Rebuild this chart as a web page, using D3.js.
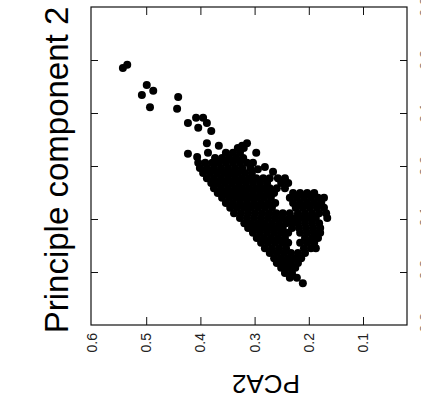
<!DOCTYPE html>
<html>
<head>
<meta charset="utf-8">
<script src="https://cdn.jsdelivr.net/npm/d3@7"></script>
<style>
  html, body { margin: 0; padding: 0; background: #fff; }
  svg { display: block; font-family: "Liberation Sans", Arial, sans-serif; }
</style>
</head>
<body>
<svg id="chart" width="421" height="412"></svg>
<script>
// Axis ticks and titles
const xTicks = [0.6, 0.5, 0.4, 0.3, 0.2, 0.1];
const yTicks = [-0.3, -0.2, -0.1, 0.0, 0.1, 0.2, 0.3];
const yTickLabels = ["-0.3", "-0.2", "-0.1", "0.0", "0.1", "0.2", "0.3"];
const xTitle = "PCA2";
const yTitle = "Principle component 2";

// Scores: [PCA2, component 2], the sparse points away from the main body
const outlying = [
  [0.543, 0.185], [0.535, 0.191], [0.499, 0.153], [0.487, 0.142], [0.508, 0.134],
  [0.493, 0.111], [0.441, 0.130], [0.443, 0.108], [0.423, 0.081], [0.408, 0.091],
  [0.395, 0.091], [0.388, 0.081], [0.404, 0.072], [0.380, 0.066], [0.388, 0.043],
  [0.366, 0.038], [0.423, 0.023], [0.406, 0.017], [0.386, 0.025], [0.314, 0.043],
  [0.323, 0.038], [0.297, 0.025], [0.308, -0.004], [0.294, -0.006], [0.281, -0.002],
  [0.266, -0.011], [0.211, -0.221]
];

// Scores in the dense body of the cloud
const cluster = [
  [0.331, 0.034], [0.320, 0.034],
  [0.353, 0.025], [0.340, 0.025], [0.327, 0.025],
  [0.373, 0.015], [0.360, 0.015], [0.347, 0.015], [0.334, 0.015], [0.321, 0.015],
  [0.404, 0.006], [0.391, 0.006], [0.378, 0.006], [0.366, 0.006], [0.353, 0.006],
  [0.340, 0.006], [0.327, 0.006], [0.314, 0.006], [0.303, 0.006],
  [0.401, -0.004], [0.388, -0.004], [0.375, -0.004], [0.362, -0.004], [0.349, -0.004],
  [0.336, -0.004], [0.323, -0.004],
  [0.395, -0.013], [0.382, -0.013], [0.369, -0.013], [0.356, -0.013], [0.343, -0.013],
  [0.331, -0.013], [0.318, -0.013], [0.305, -0.013],
  [0.388, -0.023], [0.375, -0.023], [0.362, -0.023], [0.349, -0.023], [0.336, -0.023],
  [0.323, -0.023], [0.310, -0.023], [0.297, -0.023], [0.284, -0.023], [0.272, -0.023],
  [0.257, -0.023], [0.244, -0.023],
  [0.380, -0.032], [0.368, -0.032], [0.355, -0.032], [0.342, -0.032], [0.329, -0.032],
  [0.316, -0.032], [0.303, -0.032], [0.290, -0.032], [0.277, -0.032], [0.251, -0.032],
  [0.238, -0.032],
  [0.375, -0.042], [0.362, -0.042], [0.349, -0.042], [0.336, -0.042], [0.323, -0.042],
  [0.310, -0.042], [0.297, -0.042], [0.284, -0.042], [0.272, -0.042], [0.259, -0.042],
  [0.244, -0.042],
  [0.368, -0.051], [0.355, -0.051], [0.342, -0.051], [0.329, -0.051], [0.316, -0.051],
  [0.303, -0.051], [0.290, -0.051], [0.277, -0.051], [0.264, -0.051], [0.229, -0.051],
  [0.216, -0.051], [0.203, -0.051], [0.190, -0.051],
  [0.360, -0.060], [0.347, -0.060], [0.334, -0.060], [0.321, -0.060], [0.308, -0.060],
  [0.296, -0.060], [0.283, -0.060], [0.270, -0.060], [0.235, -0.060], [0.222, -0.060],
  [0.209, -0.060], [0.196, -0.060], [0.183, -0.060], [0.172, -0.060],
  [0.353, -0.070], [0.340, -0.070], [0.327, -0.070], [0.314, -0.070], [0.301, -0.070],
  [0.288, -0.070], [0.275, -0.070], [0.262, -0.070], [0.229, -0.070], [0.216, -0.070],
  [0.203, -0.070], [0.190, -0.070], [0.177, -0.070],
  [0.345, -0.079], [0.332, -0.079], [0.319, -0.079], [0.307, -0.079], [0.294, -0.079],
  [0.281, -0.079], [0.268, -0.079], [0.224, -0.079], [0.211, -0.079], [0.198, -0.079],
  [0.185, -0.079], [0.172, -0.079],
  [0.338, -0.089], [0.325, -0.089], [0.312, -0.089], [0.299, -0.089], [0.286, -0.089],
  [0.273, -0.089], [0.260, -0.089], [0.248, -0.089], [0.235, -0.089], [0.220, -0.089],
  [0.207, -0.089], [0.194, -0.089], [0.181, -0.089], [0.168, -0.089],
  [0.327, -0.098], [0.314, -0.098], [0.301, -0.098], [0.288, -0.098], [0.275, -0.098],
  [0.262, -0.098], [0.249, -0.098], [0.236, -0.098], [0.225, -0.098], [0.212, -0.098],
  [0.199, -0.098], [0.187, -0.098], [0.166, -0.098],
  [0.319, -0.108], [0.307, -0.108], [0.294, -0.108], [0.281, -0.108], [0.268, -0.108],
  [0.255, -0.108], [0.242, -0.108], [0.231, -0.108], [0.220, -0.108], [0.207, -0.108],
  [0.194, -0.108], [0.181, -0.108],
  [0.312, -0.117], [0.299, -0.117], [0.286, -0.117], [0.273, -0.117], [0.260, -0.117],
  [0.248, -0.117], [0.231, -0.117], [0.218, -0.117], [0.205, -0.117], [0.192, -0.117],
  [0.179, -0.117],
  [0.303, -0.126], [0.290, -0.126], [0.277, -0.126], [0.264, -0.126], [0.251, -0.126],
  [0.238, -0.126], [0.216, -0.126], [0.203, -0.126], [0.190, -0.126], [0.179, -0.126],
  [0.296, -0.136], [0.283, -0.136], [0.270, -0.136], [0.257, -0.136], [0.244, -0.136],
  [0.207, -0.136], [0.194, -0.136], [0.183, -0.136],
  [0.288, -0.145], [0.275, -0.145], [0.262, -0.145], [0.249, -0.145], [0.238, -0.145],
  [0.216, -0.145], [0.203, -0.145], [0.190, -0.145],
  [0.281, -0.155], [0.268, -0.155], [0.255, -0.155], [0.242, -0.155], [0.209, -0.155],
  [0.196, -0.155], [0.187, -0.155],
  [0.272, -0.164], [0.259, -0.164], [0.246, -0.164], [0.233, -0.164], [0.220, -0.164],
  [0.207, -0.164],
  [0.264, -0.174], [0.251, -0.174], [0.238, -0.174], [0.225, -0.174], [0.214, -0.174],
  [0.259, -0.183], [0.246, -0.183], [0.233, -0.183], [0.220, -0.183],
  [0.251, -0.192], [0.238, -0.192], [0.225, -0.192],
  [0.244, -0.202], [0.231, -0.202],
  [0.235, -0.211], [0.222, -0.211]
];

const svg = d3.select("#chart");
const frame = { left: 91, right: 407, top: 7, bottom: 325 };

const x = d3.scaleLinear().domain([0.6, 0.1]).range([92, 363]);
const y = d3.scaleLinear().domain([-0.3, 0.3]).range([325, 7]);
const fmt = d3.format(".1f");

// Tick marks point inward on all four sides
const innerX = xTicks.filter(d => d !== 0.6);
const innerY = yTicks.filter(d => Math.abs(d) < 0.25);

function styleAxis(g) {
  g.select(".domain").remove();
  g.selectAll(".tick line").attr("stroke", "#111").attr("stroke-width", 1);
  g.attr("font-family", null).attr("font-size", null);
}

svg.append("g")
  .attr("transform", `translate(0,${frame.bottom})`)
  .call(d3.axisBottom(x).tickValues(innerX).tickSizeInner(-8).tickSizeOuter(0).tickFormat(() => ""))
  .call(styleAxis);

svg.append("g")
  .attr("transform", `translate(0,${frame.top})`)
  .call(d3.axisTop(x).tickValues(innerX).tickSizeInner(-8).tickSizeOuter(0).tickFormat(() => ""))
  .call(styleAxis);

svg.append("g")
  .attr("transform", `translate(${frame.left},0)`)
  .call(d3.axisLeft(y).tickValues(innerY).tickSizeInner(-7).tickSizeOuter(0).tickFormat(() => ""))
  .call(styleAxis);

svg.append("g")
  .attr("transform", `translate(${frame.right},0)`)
  .call(d3.axisRight(y).tickValues(innerY).tickSizeInner(-7).tickSizeOuter(0).tickFormat(() => ""))
  .call(styleAxis);

// Plot frame
svg.append("rect")
  .attr("x", frame.left).attr("y", frame.top)
  .attr("width", frame.right - frame.left).attr("height", frame.bottom - frame.top)
  .attr("fill", "none").attr("stroke", "#111").attr("stroke-width", 1.2);

// Bottom tick labels, turned to read upward
svg.append("g").selectAll("text")
  .data(xTicks)
  .join("text")
  .attr("transform", d => `translate(${x(d)},${frame.bottom + 8}) rotate(-90)`)
  .attr("text-anchor", "end")
  .attr("dy", "0.35em")
  .attr("font-size", 14)
  .attr("fill", "#222")
  .text(d => fmt(d));

// Right tick labels, running off the edge of the canvas
svg.append("g").selectAll("text")
  .data(yTicks)
  .join("text")
  .attr("transform", d => `translate(430,${y(d)}) rotate(-90)`)
  .attr("text-anchor", "middle")
  .attr("font-size", 14)
  .attr("fill", "#777")
  .text((d, i) => yTickLabels[i]);

// Scores
const points = outlying.concat(cluster);
svg.append("g").selectAll("circle")
  .data(points)
  .join("circle")
  .attr("cx", d => x(d[0]))
  .attr("cy", d => y(d[1]))
  .attr("r", 4)
  .attr("fill", "#000");

// Titles
svg.append("text")
  .attr("transform", `translate(68,${(frame.top + frame.bottom) / 2 + 4}) rotate(-90)`)
  .attr("text-anchor", "middle")
  .attr("font-size", 33)
  .attr("fill", "#000")
  .text(yTitle);

svg.append("text")
  .attr("transform", `translate(266,375) rotate(180)`)
  .attr("text-anchor", "middle")
  .attr("font-size", 26)
  .attr("fill", "#000")
  .text(xTitle);
</script>
</body>
</html>
